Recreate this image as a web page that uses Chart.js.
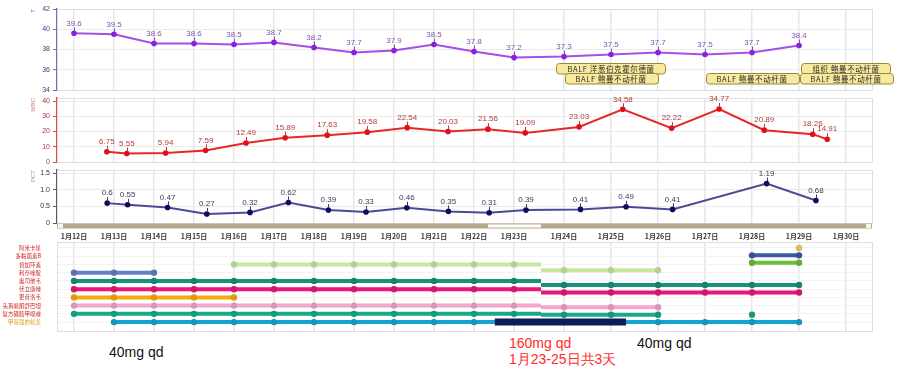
<!DOCTYPE html>
<html><head><meta charset="utf-8">
<script src="https://cdn.jsdelivr.net/npm/chart.js@4"></script>
<style>
html,body{margin:0;padding:0;background:#fff;}
#wrap{position:relative;width:899px;height:369px;overflow:hidden;background:#fff;}
canvas{position:absolute;left:0;}
.note{position:absolute;font-family:"Liberation Sans",Arial,sans-serif;font-size:14px;white-space:nowrap;line-height:16px;}
</style></head><body>
<div id="wrap">
<canvas id="cT" width="899" height="94" style="top:0px"></canvas>
<canvas id="cW" width="899" height="72" style="top:94px"></canvas>
<canvas id="cP" width="899" height="78" style="top:166px"></canvas>
<canvas id="cD" width="899" height="97" style="top:238px"></canvas>
<div class="note" style="left:109px;top:344px;color:#111">40mg qd</div>
<div class="note" style="left:509px;top:335px;color:#ff2a2a">160mg qd</div>
<div class="note" style="left:509px;top:351px;color:#ff2a2a">1月23-25日共3天</div>
<div class="note" style="left:637px;top:335px;color:#111">40mg qd</div>
</div>
<script>
// ---------------- data ----------------
const xTickDays = [12,13,14,15,16,17,18,19,20,21,22,23,24,25,26,27,28,29,30];
const xTickLabels = ['1月12日','1月13日','1月14日','1月15日','1月16日','1月17日','1月18日','1月19日','1月20日','1月21日','1月22日','1月23日','1月24日','1月25日','1月26日','1月27日','1月28日','1月29日','1月30日'];

const tempDays = [12,13,14,15,16,17,18,19,20,21,22,23,24,25,26,27,28,29];
const tempValues = [39.6,39.5,38.6,38.6,38.5,38.7,38.2,37.7,37.9,38.5,37.8,37.2,37.3,37.5,37.7,37.5,37.7,38.4];

const wbcDays = [12.82,13.32,14.29,15.29,16.3,17.28,18.33,19.33,20.33,21.35,22.35,23.28,24.32,25.25,26.29,27.3,28.26,29.29,29.6];
const wbcValues = [6.75,5.55,5.94,7.59,12.49,15.89,17.63,19.58,22.54,20.03,21.56,19.09,23.03,34.58,22.22,34.77,20.89,18.26,14.91];

const pctDays = [12.83,13.34,14.34,15.32,16.4,17.36,18.36,19.3,20.32,21.36,22.38,23.3,24.35,25.32,26.31,28.31,29.36];
const pctValues = [0.6,0.55,0.47,0.27,0.32,0.62,0.39,0.33,0.46,0.35,0.31,0.39,0.41,0.49,0.41,1.19,0.68];

const cultureTexts = ['BALF 洋葱伯克霍尔德菌','BALF 鲍曼不动杆菌','BALF 鲍曼不动杆菌','组织 鲍曼不动杆菌','BALF 鲍曼不动杆菌'];
const cultureDays = [25,25,28,30,30];

const drugNames = ['阿米卡星','多黏菌素B','替加环素','利奈唑胺','奥司他韦','伏立康唑','更昔洛韦','头孢哌酮舒巴坦','复方磺胺甲噁唑','甲基强的松龙'];
const amikacinDays = [29];
const polymyxinBDays = [28,29];
const extraGreenDays = [28,29]; // row only present in the right-hand part (name not shown)
const tigecyclineDays = [16,17,18,19,20,21,22,23,24,25,26];
const linezolidDays = [12,13,14];
const oseltamivirDays = [12,13,14,15,16,17,18,19,20,21,22,23,24,25,26,27,28,29];
const voriconazoleDays = [12,13,14,15,16,17,18,19,20,21,22,23,24,25,26,27,28,29];
const ganciclovirDays = [12,13,14,15,16];
const cefoperazoneDays = [12,13,14,15,16,17,18,19,20,21,22,23,24,25,26];
const smzDays = [12,13,14,15,16,17,18,19,20,21,22,23,24,25,26,28];
const methylprednDays = [13,14,15,16,17,18,19,20,21,22,23,24,25,26,27,28,29];
const methylprednHighDose = [22.52, 25.32];

// ------------- axis transform (two pasted screenshots with different day widths) -------------
const SEAM = 11.675, RIGHT_START_DAY = 23.51, RIGHT_DAY_WIDTH = 1.175;
function pos(day){ return day < 23.6 ? day - 12 : SEAM + (day - RIGHT_START_DAY) * RIGHT_DAY_WIDTH; }

Chart.defaults.font.family = '"Liberation Sans", Arial, sans-serif';
const CJK = '"Noto Sans CJK SC", sans-serif';

function xAxis(showLabels){
  return {
    type:'linear', min:-0.425, max:19.95,
    afterBuildTicks: s => { s.ticks = xTickDays.map(d => ({value: pos(d)})); },
    afterFit: s => { s.height = showLabels ? 21 : 0; s.paddingLeft = 0; s.paddingRight = 0; },
    ticks: { display: showLabels, autoSkip:false, maxRotation:0, padding:9, color:'#333',
             font:{size:7, weight:'bold', family:CJK}, callback:(v,i) => xTickLabels[i] },
    grid: { color:'#e6e6e6', lineWidth:1.5, drawTicks:false },
    border: { display:false }
  };
}
function yAxis(o){
  return {
    type:'linear', position:'left', min:o.min, max:o.max,
    afterFit: s => { s.width = 57; s.paddingTop = 0; s.paddingBottom = 0; },
    grid: { color:'#ebebeb', lineWidth:1, drawTicks:true, tickLength:4, tickColor:o.axisColor },
    border: { display:true, color:o.axisColor, width:1.5 },
    ticks: { color:o.tickColor, padding:3, font:{size:7}, stepSize:o.step, includeBounds:false },
    title: { display:true, text:o.title, color:o.titleColor, align:'end', font:{size:6}, padding:{top:30,bottom:0} }
  };
}

const framePlugin = {
  id:'frame',
  beforeDatasetsDraw(chart){
    const a = chart.chartArea, ctx = chart.ctx;
    ctx.save(); ctx.strokeStyle = '#dedede'; ctx.lineWidth = 1;
    ctx.strokeRect(Math.round(a.left)+0.5, Math.round(a.top)+0.5, Math.round(a.right-a.left), Math.round(a.bottom-a.top));
    ctx.restore();
  }
};
const pointLabelPlugin = {
  id:'pointLabels',
  afterDatasetsDraw(chart, args, opts){
    const ctx = chart.ctx;
    chart.data.datasets.forEach((ds, di) => {
      const meta = chart.getDatasetMeta(di);
      meta.data.forEach((el, i) => {
        ctx.save();
        ctx.strokeStyle = opts.color; ctx.lineWidth = 1;
        ctx.beginPath(); ctx.moveTo(Math.round(el.x)+0.5, el.y-2.5); ctx.lineTo(Math.round(el.x)+0.5, el.y-6); ctx.stroke();
        ctx.fillStyle = opts.color; ctx.font = '8px "Liberation Sans", Arial, sans-serif';
        ctx.textAlign = 'center'; ctx.textBaseline = 'middle';
        ctx.fillText(String(ds.data[i].y), el.x, el.y - 10);
        ctx.restore();
      });
    });
  }
};
const culturePlugin = {
  id:'cultures',
  afterDatasetsDraw(chart){
    const ctx = chart.ctx, xs = chart.scales.x, ys = chart.scales.y;
    ctx.save();
    ctx.font = '7.5px ' + CJK;
    try { ctx.letterSpacing = '0.6px'; } catch(e) {}
    const boxH = 10.5;
    const baseY = ys.getPixelForValue(34.6);
    cultureDays.forEach((d, i) => {
      const same = cultureDays.filter(v => v === d).length;
      const before = cultureDays.slice(0, i).filter(v => v === d).length;
      const level = same - 1 - before;
      const tw = ctx.measureText(cultureTexts[i]).width;
      const w = tw + 22;
      const cx = xs.getPixelForValue(pos(d));
      const top = baseY - (level + 1) * boxH;
      const left = cx - w/2;
      ctx.beginPath();
      ctx.roundRect(Math.round(left)+0.5, Math.round(top)+0.5, Math.round(w), boxH, 3);
      ctx.fillStyle = '#f6eaa0'; ctx.fill();
      ctx.strokeStyle = '#9c8636'; ctx.lineWidth = 1; ctx.stroke();
      ctx.fillStyle = '#2a2a2a'; ctx.textAlign = 'center'; ctx.textBaseline = 'middle';
      ctx.fillText(cultureTexts[i], cx, top + boxH/2 + 0.5);
    });
    ctx.restore();
  }
};
const scrollPlugin = {
  id:'scrollbar',
  afterDraw(chart){
    const a = chart.chartArea, xs = chart.scales.x, ctx = chart.ctx;
    const y0 = a.bottom + 0.5, h = 5;
    ctx.save();
    ctx.fillStyle = '#b8aa8a'; ctx.fillRect(a.left, y0, a.right - a.left, h);
    const t0 = xs.getPixelForValue(pos(22.35)), t1 = xs.getPixelForValue(SEAM);
    ctx.fillStyle = '#ffffff'; ctx.fillRect(t0, y0 + 1, t1 - t0, h - 2);
    ctx.fillStyle = '#f7f5ee';
    ctx.fillRect(a.left + 1, y0 + 0.5, 5, h - 1); ctx.fillRect(a.right - 6, y0 + 0.5, 5, h - 1);
    ctx.restore();
  }
};

function baseOpts(pad, scales, plugins){
  return {
    responsive:false, animation:false, devicePixelRatio:1,
    layout:{padding:pad},
    plugins:Object.assign({legend:{display:false}, tooltip:{enabled:false}}, plugins),
    scales:scales
  };
}
function series(days, vals, line, point){
  return { data: days.map((d,i) => ({x:pos(d), y:vals[i]})), borderColor:line, backgroundColor:point,
           pointBackgroundColor:point, pointBorderWidth:0, pointRadius:2.8, borderWidth:2, tension:0, clip:false };
}

// ---- temperature ----
new Chart(document.getElementById('cT'), {
  type:'line',
  data:{datasets:[series(tempDays, tempValues, '#a64ee8', '#8a1fdc')]},
  options: baseOpts({left:0,right:27,top:9,bottom:3},
    {x:xAxis(false), y:yAxis({min:34,max:42,step:2,axisColor:'#6f6fc4',tickColor:'#3b3b7e',title:'T',titleColor:'#6a6ab8'})},
    {pointLabels:{color:'#8256b0'}}),
  plugins:[framePlugin, pointLabelPlugin, culturePlugin]
});
// ---- WBC ----
new Chart(document.getElementById('cW'), {
  type:'line',
  data:{datasets:[series(wbcDays, wbcValues, '#e8262a', '#e0101a')]},
  options: baseOpts({left:0,right:27,top:4,bottom:2},
    {x:xAxis(false), y:yAxis({min:0,max:42,step:10,axisColor:'#dc4a4d',tickColor:'#b03030',title:'WBC',titleColor:'#e07575'})},
    {pointLabels:{color:'#b23a3a'}}),
  plugins:[framePlugin, pointLabelPlugin]
});
// ---- PCT ----
new Chart(document.getElementById('cP'), {
  type:'line',
  data:{datasets:[series(pctDays, pctValues, '#4b4b95', '#0d0d5e')]},
  options: baseOpts({left:0,right:27,top:4,bottom:0},
    {x:xAxis(true), y:yAxis({min:0,max:1.6,step:0.5,axisColor:'#5a5a70',tickColor:'#333',title:'PCT',titleColor:'#9090aa'})},
    {pointLabels:{color:'#3a3a58'}}),
  plugins:[framePlugin, pointLabelPlugin, scrollPlugin]
});

// ---- drugs ----
function shade(hex, f){
  const n = parseInt(hex.slice(1),16);
  const r = Math.round(((n>>16)&255)*f), g = Math.round(((n>>8)&255)*f), b = Math.round((n&255)*f);
  return 'rgb(' + r + ',' + g + ',' + b + ')';
}
const drugRows = [
  {days:amikacinDays,     left:0,    right:0,  color:'#f7cf72'},
  {days:polymyxinBDays,   left:1,    right:1,  color:'#3d5aa8'},
  {days:extraGreenDays,   left:null, right:2,  color:'#6cbf3c'},
  {days:tigecyclineDays,  left:2,    right:3,  color:'#c6e8a3'},
  {days:linezolidDays,    left:3,    right:4,  color:'#6580c4'},
  {days:oseltamivirDays,  left:4,    right:5,  color:'#17937a'},
  {days:voriconazoleDays, left:5,    right:6,  color:'#e8167a'},
  {days:ganciclovirDays,  left:6,    right:7,  color:'#f6ab0c'},
  {days:cefoperazoneDays, left:7,    right:8,  color:'#f5a5ca'},
  {days:smzDays,          left:8,    right:9,  color:'#1aa88b'},
  {days:methylprednDays,  left:9,    right:10, color:'#15a3d7'}
];
const RIGHT_ROW = 0.9; // right-hand screenshot packs 11 rows into the height of 10
function runs(days){
  const out = []; let cur = [];
  days.forEach(d => { if (cur.length && d !== cur[cur.length-1] + 1) { out.push(cur); cur = []; } cur.push(d); });
  if (cur.length) out.push(cur);
  return out;
}
function drugSet(pts, color){
  return { data:pts, borderColor:color, backgroundColor:color, borderWidth:4, borderCapStyle:'butt',
           pointRadius: c => (c.raw && c.raw.seam) ? 0 : 3.2, pointBackgroundColor:shade(color.replace('#','#'), 0.9),
           pointBorderWidth:0, tension:0, clip:false, order:1 };
}
const drugDatasets = [];
drugRows.forEach(dr => runs(dr.days).forEach(run => {
  const L = run.filter(d => d <= 23), R = run.filter(d => d >= 24);
  if (L.length && dr.left !== null) {
    const pts = L.map(d => ({x:pos(d), y:dr.left}));
    if (R.length) pts.push({x:SEAM, y:dr.left, seam:true});
    drugDatasets.push(drugSet(pts, dr.color));
  }
  if (R.length) {
    const y = dr.right * RIGHT_ROW;
    const pts = R.map(d => ({x:pos(d), y:y}));
    if (L.length) pts.unshift({x:SEAM, y:y, seam:true});
    drugDatasets.push(drugSet(pts, dr.color));
  }
}));
drugDatasets.push({
  data:[{x:pos(methylprednHighDose[0]), y:9},{x:SEAM, y:9},{x:pos(methylprednHighDose[1]), y:9}],
  borderColor:'#0b1d5a', borderWidth:7, borderCapStyle:'butt', pointRadius:0, tension:0, clip:false, order:0
});

new Chart(document.getElementById('cD'), {
  type:'line',
  data:{datasets:drugDatasets},
  options: baseOpts({left:0,right:27,top:4,bottom:3}, {
    x:xAxis(false),
    y:{ type:'linear', reverse:true, min:-0.72, max:10.08,
        afterBuildTicks: s => { s.ticks = drugNames.map((n,i) => ({value:i})); },
        afterFit: s => { s.width = 57; s.paddingTop = 0; s.paddingBottom = 0; },
        ticks:{ autoSkip:false, padding:16, font:{size:5.5, family:CJK},
                color: c => c.index === 9 ? '#e39a18' : '#cc2424', callback:(v,i) => drugNames[i] },
        grid:{ color:'#f2f2f2', drawTicks:false },
        border:{ display:false } }
  }, {}),
  plugins:[framePlugin]
});
</script>
</body></html>
